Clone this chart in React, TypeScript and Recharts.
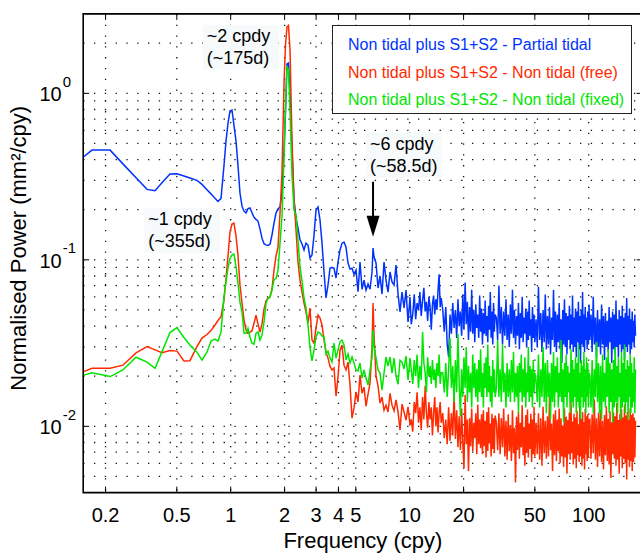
import React from 'react';
import { LineChart, Line, XAxis, YAxis, CartesianGrid, Legend, ReferenceArea, ReferenceDot, Label } from 'recharts';

// frequencies in cycles per year (shared by the three spectra)
const freq = [
  0.151, 0.168, 0.212, 0.25, 0.296, 0.341, 0.378, 0.413, 0.458, 0.501,
  0.548, 0.592, 0.648, 0.691, 0.737, 0.776, 0.817, 0.849, 0.883, 0.918,
  0.941, 0.966, 0.991, 1.017, 1.043, 1.071, 1.098, 1.127, 1.157, 1.187,
  1.218, 1.249, 1.282, 1.315, 1.35, 1.385, 1.421, 1.458, 1.496, 1.535,
  1.575, 1.616, 1.658, 1.701, 1.746, 1.791, 1.838, 1.886, 1.935, 1.986,
  2.024, 2.063, 2.103, 2.145, 2.2, 2.258, 2.317, 2.377, 2.439,
  2.503, 2.568, 2.635, 2.703, 2.774, 2.846, 2.921, 2.997, 3.075, 3.155,
  3.237, 3.322, 3.408, 3.497, 3.588, 3.682, 3.778, 3.876, 3.977, 4.081,
  4.187, 4.296, 4.408, 4.523, 4.641, 4.762, 4.886, 5.014, 5.144, 5.278,
  5.416, 5.557, 5.702, 5.851, 6.003, 6.16, 6.24, 6.32, 6.485, 6.654,
  6.827, 7.005, 7.188, 7.375, 7.567, 7.765, 7.967, 8.175, 8.387, 8.606,
  8.83, 9.061, 9.297, 9.539, 9.788, 10.04,
  10.2, 10.4, 10.6, 10.8, 11, 11.2, 11.4, 11.6, 11.8, 12, 12.2, 12.4, 12.6,
  12.8, 13, 13.2, 13.4, 13.6, 13.8, 14, 14.2, 14.4, 14.6, 14.8, 15,
  15.3, 15.6, 15.9, 16.2, 16.5, 16.8, 17.1, 17.4, 17.7, 18, 18.3, 18.6, 18.9,
  19.2, 19.5, 19.8, 20.1, 20.4, 20.7, 21, 21.3, 21.6, 21.9, 22.2, 22.5, 22.8,
  23.1, 23.4, 23.7, 24, 24.3, 24.6, 24.9, 25.2, 25.5, 25.8, 26.1, 26.4, 26.7,
  27, 27.3, 27.6, 27.9, 28.2, 28.5, 28.8, 29.1, 29.4, 29.7, 30,
  30.5, 31, 31.5, 32, 32.5, 33, 33.5, 34, 34.5, 35, 35.5, 36, 36.5, 37, 37.5,
  38, 38.5, 39, 39.5, 40, 40.5, 41, 41.5, 42, 42.5, 43, 43.5, 44, 44.5, 45,
  45.5, 46, 46.5, 47, 47.5, 48, 48.5, 49, 49.5, 50,
  50.8, 51.6, 52.4, 53.2, 54, 54.8, 55.6, 56.4, 57.2, 58, 58.8, 59.6, 60.4,
  61.2, 62, 62.8, 63.6, 64.4, 65.2, 66, 66.8, 67.6, 68.4, 69.2, 70, 70.8,
  71.6, 72.4, 73.2, 74, 74.8, 75.6, 76.4, 77.2, 78, 78.8, 79.6, 80.4, 81.2,
  82, 82.8, 83.6, 84.4, 85.2, 86, 86.8, 87.6, 88.4, 89.2, 90, 90.8, 91.6,
  92.4, 93.2, 94, 94.8, 95.6, 96.4, 97.2, 98, 98.8, 99.6, 100.4,
  101.5, 103, 104.5, 106, 107.5, 109, 110.5, 112, 113.5, 115, 116.5, 118,
  119.5, 121, 122.5, 124, 125.5, 127, 128.5, 130, 131.5, 133, 134.5, 136,
  137.5, 139, 140.5, 142, 143.5, 145, 146.5, 148, 149.5, 151, 152.5, 154,
  155.5, 157, 158.5, 160, 161.5, 163, 164.5, 166, 167.5, 169, 170.5, 172,
  173.5, 175, 176.5, 178, 179.5, 181, 182.5,
];

// normalised power (mm^2/cpy)
const partialTidal = [
  0.416, 0.456, 0.456, 0.377, 0.311, 0.265, 0.26, 0.29, 0.328, 0.329,
  0.319, 0.31, 0.3, 0.284, 0.264, 0.249, 0.234, 0.224, 0.234, 0.371,
  0.513, 0.663, 0.783, 0.794, 0.645, 0.517, 0.371, 0.252, 0.21, 0.196,
  0.191, 0.203, 0.205, 0.192, 0.18, 0.175, 0.171, 0.153, 0.135, 0.125,
  0.123, 0.122, 0.124, 0.141, 0.166, 0.191, 0.202, 0.208, 0.252, 0.456,
  0.772, 1.5, 1.52, 0.977, 0.456, 0.229, 0.178, 0.155, 0.132,
  0.1245, 0.1146, 0.126, 0.1227, 0.1026, 0.107, 0.141, 0.199, 0.2075, 0.173,
  0.126, 0.0845, 0.059, 0.0706, 0.0893, 0.09, 0.089, 0.0778, 0.097, 0.1146,
  0.126, 0.128, 0.119, 0.0957, 0.088, 0.089, 0.082, 0.0868, 0.0644, 0.097,
  0.0666, 0.0756, 0.0659, 0.0716, 0.0666, 0.0845, 0.1178, 0.104, 0.0957, 0.0677,
  0.08, 0.0623, 0.097, 0.0756, 0.064, 0.0845, 0.0736, 0.0706, 0.0931, 0.0623,
  0.0487, 0.064, 0.0514, 0.0659, 0.0423, 0.0598,
  0.041, 0.047, 0.062, 0.044, 0.055, 0.05, 0.064, 0.046, 0.057, 0.068, 0.049,
  0.056, 0.043, 0.06, 0.052, 0.038, 0.054, 0.061, 0.047, 0.058, 0.05, 0.066,
  0.082, 0.052, 0.059,
  0.05, 0.037, 0.052, 0.031, 0.026, 0.047, 0.036, 0.055, 0.039, 0.05,
  0.034, 0.058, 0.04, 0.049, 0.035, 0.062, 0.038, 0.073, 0.041, 0.056,
  0.033, 0.052, 0.037, 0.066, 0.036, 0.05, 0.032, 0.054, 0.039, 0.047,
  0.034, 0.061, 0.037, 0.051, 0.031, 0.048, 0.036, 0.057, 0.035, 0.046,
  0.032, 0.053, 0.038, 0.064, 0.034, 0.049, 0.031, 0.055, 0.037, 0.047,
  0.045, 0.033, 0.07, 0.036, 0.052, 0.031, 0.049, 0.035, 0.058, 0.033,
  0.047, 0.03, 0.054, 0.036, 0.066, 0.034, 0.05, 0.031, 0.046, 0.035,
  0.055, 0.029, 0.048, 0.034, 0.06, 0.032, 0.045, 0.036, 0.051, 0.03,
  0.049, 0.033, 0.057, 0.035, 0.044, 0.028, 0.052, 0.034, 0.047, 0.032,
  0.044, 0.03, 0.069, 0.033, 0.048, 0.028, 0.05, 0.032, 0.062, 0.029,
  0.046, 0.031, 0.052, 0.027, 0.045, 0.033, 0.066, 0.03, 0.049, 0.028,
  0.047, 0.032, 0.055, 0.029, 0.044, 0.024, 0.05, 0.031, 0.058, 0.03,
  0.048, 0.027, 0.046, 0.033, 0.053, 0.029, 0.047, 0.031, 0.061, 0.028,
  0.045, 0.03, 0.051, 0.026, 0.049, 0.032, 0.056, 0.029, 0.046, 0.024,
  0.05, 0.031, 0.064, 0.03, 0.047, 0.028, 0.052, 0.033, 0.045, 0.029,
  0.049, 0.031, 0.054,
  0.033, 0.047, 0.028, 0.06, 0.031, 0.045, 0.026, 0.05, 0.03, 0.044,
  0.027, 0.054, 0.031, 0.046, 0.025, 0.048, 0.03, 0.043, 0.028, 0.052,
  0.032, 0.045, 0.024, 0.049, 0.029, 0.047, 0.027, 0.057, 0.03, 0.044,
  0.026, 0.05, 0.031, 0.046, 0.028, 0.053, 0.029, 0.045, 0.025, 0.048,
  0.03, 0.059, 0.028, 0.046, 0.031, 0.051, 0.027, 0.044, 0.029, 0.049,
  0.032, 0.043, 0.03, 0.047, 0.035,
];

const nonTidalFree = [
  0.0213, 0.0223, 0.0223, 0.0233, 0.0276, 0.0301, 0.0288, 0.0277, 0.0285, 0.0283,
  0.0247, 0.0248, 0.0301, 0.0339, 0.0356, 0.0376, 0.0406, 0.0432, 0.0455, 0.0574,
  0.0767, 0.1054, 0.1469, 0.164, 0.166, 0.139, 0.107, 0.0706, 0.055, 0.0435,
  0.0379, 0.0361, 0.0368, 0.0374, 0.0416, 0.0466, 0.0412, 0.0368, 0.0412, 0.0506,
  0.0566, 0.059, 0.06, 0.0668, 0.0868, 0.1054, 0.119, 0.191, 0.332, 1.153,
  1.95, 2.5, 2.555, 1.82, 0.524, 0.229, 0.151, 0.097, 0.0756,
  0.064, 0.055, 0.0486, 0.0417, 0.0513, 0.033, 0.0316, 0.039, 0.0466, 0.0447,
  0.0406, 0.033, 0.0279, 0.0257, 0.023, 0.0218, 0.0224, 0.0152, 0.0198, 0.0287,
  0.0308, 0.0233, 0.0218, 0.0243, 0.0177, 0.0112, 0.0129, 0.0161, 0.014, 0.0203,
  0.0158, 0.0172, 0.0132, 0.0156, 0.0182, 0.03, 0.055, 0.0353, 0.02, 0.0175,
  0.0138, 0.015, 0.0125, 0.0134, 0.0122, 0.0158, 0.0134, 0.0124, 0.0144, 0.0122,
  0.0095, 0.0136, 0.0122, 0.0109, 0.0131, 0.0102,
  0.011, 0.0093, 0.014, 0.012, 0.016, 0.0105, 0.013, 0.0095, 0.015, 0.011,
  0.0175, 0.012, 0.0098, 0.014, 0.011, 0.013, 0.0088, 0.012, 0.015, 0.01,
  0.013, 0.0092, 0.012, 0.014, 0.0105,
  0.012, 0.0085, 0.011, 0.0078, 0.013, 0.0082, 0.012, 0.0088, 0.0158, 0.0084,
  0.0125, 0.0075, 0.0115, 0.0072, 0.0128, 0.0079, 0.0056, 0.0155, 0.0078, 0.011,
  0.0054, 0.0112, 0.0076, 0.0128, 0.0071, 0.0105, 0.0085, 0.012, 0.0068, 0.0135,
  0.0078, 0.011, 0.0074, 0.0118, 0.0068, 0.0125, 0.0076, 0.0108, 0.0065, 0.0122,
  0.0071, 0.013, 0.0079, 0.0104, 0.0066, 0.0119, 0.0073, 0.0112, 0.0069, 0.0116,
  0.0105, 0.0072, 0.012, 0.0068, 0.0112, 0.0075, 0.0128, 0.0066, 0.0108, 0.0063,
  0.0118, 0.0071, 0.0102, 0.0062, 0.0125, 0.0069, 0.0098, 0.0046, 0.0114, 0.0072,
  0.0122, 0.0064, 0.0105, 0.0075, 0.0134, 0.0067, 0.0099, 0.0058, 0.0117, 0.007,
  0.0126, 0.0065, 0.0104, 0.0073, 0.0119, 0.0061, 0.011, 0.0068, 0.0131, 0.0066,
  0.0105, 0.0068, 0.012, 0.0063, 0.0112, 0.0058, 0.0131, 0.0069, 0.0108, 0.0064,
  0.0115, 0.0066, 0.0155, 0.0072, 0.0104, 0.0054, 0.0118, 0.0067, 0.0125, 0.0062,
  0.011, 0.0071, 0.0128, 0.006, 0.0112, 0.0066, 0.0101, 0.0057, 0.0128, 0.0065,
  0.0114, 0.0052, 0.0109, 0.0068, 0.0121, 0.0063, 0.0142, 0.0069, 0.0107, 0.0059,
  0.0119, 0.0064, 0.0113, 0.0056, 0.0124, 0.0067, 0.0103, 0.0061, 0.0133, 0.0066,
  0.0111, 0.0058, 0.0122, 0.0064, 0.0106, 0.0055, 0.0127, 0.0068, 0.0115, 0.0062,
  0.0118, 0.0065, 0.0109,
  0.011, 0.0064, 0.0118, 0.0069, 0.0145, 0.0063, 0.0112, 0.0057, 0.0121, 0.0066,
  0.0126, 0.0061, 0.0108, 0.0055, 0.0117, 0.0067, 0.0132, 0.0062, 0.0111, 0.0059,
  0.0123, 0.0049, 0.0106, 0.0068, 0.0121, 0.0064, 0.0115, 0.0058, 0.0138, 0.0063,
  0.0109, 0.0052, 0.0119, 0.0066, 0.0127, 0.0056, 0.0113, 0.0064, 0.0135, 0.006,
  0.0116, 0.0048, 0.0122, 0.0063, 0.011, 0.0057, 0.0128, 0.0062, 0.0117, 0.0054,
  0.012, 0.0061, 0.0113, 0.0065, 0.0108,
];

const nonTidalFixed = [
  0.0203, 0.021, 0.0199, 0.0218, 0.026, 0.0243, 0.0223, 0.028, 0.0366, 0.0392,
  0.0342, 0.0308, 0.0279, 0.025, 0.0279, 0.0325, 0.0334, 0.0325, 0.0368, 0.0606,
  0.0736, 0.0893, 0.102, 0.107, 0.1084, 0.0909, 0.0726, 0.0558, 0.0486, 0.0362,
  0.0362, 0.0388, 0.0344, 0.0316, 0.0312, 0.0362, 0.037, 0.033, 0.0353, 0.0423,
  0.0548, 0.0587, 0.0594, 0.0658, 0.0761, 0.0772, 0.0868, 0.126, 0.1833, 0.416,
  0.851, 1.44, 1.4, 0.794, 0.323, 0.199, 0.186, 0.1315, 0.0909,
  0.075, 0.059, 0.0513, 0.0406, 0.0295, 0.0247, 0.0287, 0.0344, 0.0368, 0.0363,
  0.0349, 0.0344, 0.0272, 0.0283, 0.0257, 0.0243, 0.0316, 0.0257, 0.0287, 0.0322,
  0.033, 0.0308, 0.025, 0.0272, 0.024, 0.0261, 0.024, 0.0218, 0.0215, 0.024,
  0.0195, 0.0218, 0.0195, 0.0177, 0.0218, 0.026, 0.0379, 0.03, 0.0257, 0.0218,
  0.0209, 0.0165, 0.0209, 0.0261, 0.023, 0.0261, 0.0209, 0.0257, 0.02, 0.0179,
  0.025, 0.0243, 0.0221, 0.0264, 0.019, 0.0257,
  0.022, 0.018, 0.025, 0.02, 0.027, 0.017, 0.023, 0.019, 0.037, 0.024, 0.021,
  0.016, 0.026, 0.02, 0.023, 0.018, 0.025, 0.019, 0.022, 0.017, 0.024, 0.02,
  0.027, 0.018, 0.021,
  0.021, 0.016, 0.024, 0.015, 0.022, 0.034, 0.017, 0.023, 0.014, 0.025,
  0.016, 0.036, 0.018, 0.0115, 0.022, 0.015, 0.026, 0.017, 0.03, 0.014,
  0.023, 0.016, 0.021, 0.013, 0.027, 0.017, 0.024, 0.015, 0.022, 0.014,
  0.025, 0.016, 0.029, 0.015, 0.021, 0.013, 0.024, 0.017, 0.026, 0.015,
  0.031, 0.016, 0.023, 0.014, 0.02, 0.013, 0.025, 0.016, 0.022, 0.015,
  0.017, 0.033, 0.015, 0.022, 0.014, 0.031, 0.016, 0.021, 0.013, 0.024,
  0.015, 0.022, 0.014, 0.025, 0.016, 0.028, 0.014, 0.021, 0.015, 0.023,
  0.012, 0.024, 0.016, 0.027, 0.014, 0.022, 0.015, 0.026, 0.013, 0.021,
  0.016, 0.03, 0.014, 0.023, 0.015, 0.022, 0.013, 0.025, 0.016, 0.021,
  0.019, 0.014, 0.027, 0.013, 0.022, 0.015, 0.03, 0.014, 0.024, 0.012,
  0.025, 0.015, 0.021, 0.011, 0.024, 0.014, 0.028, 0.013, 0.023, 0.016,
  0.026, 0.013, 0.021, 0.015, 0.033, 0.014, 0.022, 0.0105, 0.024, 0.015,
  0.027, 0.013, 0.023, 0.016, 0.021, 0.012, 0.029, 0.014, 0.025, 0.013,
  0.022, 0.015, 0.026, 0.012, 0.024, 0.014, 0.031, 0.013, 0.021, 0.011,
  0.025, 0.015, 0.023, 0.013, 0.028, 0.014, 0.022, 0.012, 0.026, 0.015,
  0.024, 0.013, 0.021,
  0.02, 0.013, 0.025, 0.012, 0.022, 0.015, 0.032, 0.014, 0.024, 0.012,
  0.023, 0.011, 0.027, 0.014, 0.021, 0.013, 0.026, 0.015, 0.029, 0.012,
  0.024, 0.014, 0.022, 0.0105, 0.025, 0.013, 0.03, 0.014, 0.023, 0.012,
  0.026, 0.015, 0.021, 0.011, 0.028, 0.013, 0.024, 0.014, 0.031, 0.012,
  0.022, 0.014, 0.025, 0.011, 0.023, 0.015, 0.027, 0.012, 0.024, 0.013,
  0.021, 0.014, 0.026, 0.012, 0.022,
];

const seriesNames = [
  'Non tidal plus S1+S2 - Partial tidal',
  'Non tidal plus S1+S2 - Non tidal (free)',
  'Non tidal plus S1+S2 - Non tidal (fixed)',
];
const seriesColors = ['#0033ff', '#ff2a00', '#00e600'];

const xTicks = [0.2, 0.5, 1, 2, 3, 4, 5, 10, 20, 50, 100];
const yTicks = [0.01, 0.1, 1];
const yGrid = [
  0.005, 0.006, 0.007, 0.008, 0.009, 0.01, 0.02, 0.03, 0.04, 0.05, 0.06, 0.07,
  0.08, 0.09, 0.1, 0.2, 0.3, 0.4, 0.5, 0.6, 0.7, 0.8, 0.9, 1, 2,
];

const notes = [
  { f: 0.734, p: 2.04, lines: ['~2 cpdy', '(~175d)'] },
  { f: 0.3465, p: 0.162, lines: ['~1 cpdy', '(~355d)'] },
  { f: 6.0, p: 0.4565, lines: ['~6 cpdy', '(~58.5d)'] },
];
const arrowAt = { f: 6.24, p: 0.1376 };

const rows = freq.map((f, i) => ({
  f,
  partial: partialTidal[i],
  free: nonTidalFree[i],
  fixed: nonTidalFixed[i],
}));

const FONT = '"Liberation Sans", Arial, Helvetica, sans-serif';
const CHART_W = 660;
const CHART_H = 553;
const MARGIN = { top: 13.9, right: 17.4, bottom: 0.4, left: 23.2 };
const PLOT_W = CHART_W - MARGIN.left - MARGIN.right - 60;
const PLOT_H = CHART_H - MARGIN.top - MARGIN.bottom - 60;

const XTick = (props: any) => {
  const { x, y, payload } = props;
  return (
    <g>
      <line x1={x} x2={x} y1={y} y2={y - 6} stroke="#000" strokeWidth={1} />
      <line x1={x} x2={x} y1={y - PLOT_H} y2={y - PLOT_H + 6} stroke="#000" strokeWidth={1} />
      <text x={x} y={y + 29} textAnchor="middle" fontSize={20} fill="#000" fontFamily={FONT}>
        {payload.value}
      </text>
    </g>
  );
};

const YTick = (props: any) => {
  const { x, y, payload } = props;
  const exp = Math.round(Math.log10(payload.value));
  return (
    <g fontFamily={FONT} fill="#000">
      <line x1={x} x2={x + 6} y1={y} y2={y} stroke="#000" strokeWidth={1} />
      <line x1={x + PLOT_W} x2={x + PLOT_W - 6} y1={y} y2={y} stroke="#000" strokeWidth={1} />
      <text x={x - 21.5} y={y + 8} textAnchor="end" fontSize={20}>10</text>
      <text x={x - 20.5} y={y - 6.5} fontSize={15}>{exp}</text>
    </g>
  );
};

const Note = (props: any) => {
  const { cx, cy, lines } = props;
  return (
    <g fontFamily={FONT} fontSize={18} fill="#000">
      <rect x={cx - 4} y={cy - 17} width={76} height={45} fill="#f7fafb" />
      {lines.map((t: string, i: number) => (
        <text key={i} x={cx} y={cy + i * 22.3}>{t}</text>
      ))}
    </g>
  );
};

const ArrowDown = (props: any) => {
  const { cx, cy } = props;
  return (
    <g>
      <line x1={cx} x2={cx} y1={cy - 55} y2={cy - 18} stroke="#000" strokeWidth={2} />
      <path d={`M${cx - 6.5},${cy - 21} L${cx + 6.5},${cy - 21} L${cx},${cy} Z`} fill="#000" />
    </g>
  );
};

const LegendBox = () => (
  <div
    style={{
      boxSizing: 'border-box',
      width: '100%',
      height: '100%',
      border: '1px solid #222',
      background: '#fff',
      padding: '5px 0 0 15px',
      fontFamily: FONT,
      fontSize: 16,
      lineHeight: '27.5px',
      whiteSpace: 'nowrap',
    }}
  >
    {seriesNames.map((n, i) => (
      <div key={n} style={{ color: seriesColors[i] }}>{n}</div>
    ))}
  </div>
);

export default function App() {
  return (
    <div style={{ position: 'absolute', left: 0, top: 0, width: 640, height: 553, overflow: 'hidden', background: '#fff' }}>
      <LineChart width={CHART_W} height={CHART_H} data={rows} margin={MARGIN}>
        <CartesianGrid
          verticalValues={xTicks}
          horizontalValues={yGrid}
          stroke="#111"
          strokeWidth={1.3}
          strokeDasharray="1.3 9.5"
        />
        <XAxis
          dataKey="f"
          type="number"
          scale="log"
          domain={[0.15, 200]}
          allowDataOverflow
          ticks={xTicks}
          interval={0}
          height={60}
          tickSize={0}
          tickMargin={0}
          axisLine={false}
          tickLine={false}
          tick={<XTick />}
        >
          <Label
            content={(p: any) => {
              const vb = p.viewBox;
              return (
                <text x={vb.x + vb.width / 2} y={vb.y + 55} textAnchor="middle" fontSize={22} fontFamily={FONT} fill="#000">
                  Frequency (cpy)
                </text>
              );
            }}
          />
        </XAxis>
        <YAxis
          type="number"
          scale="log"
          domain={[0.004, 3]}
          allowDataOverflow
          ticks={yTicks}
          interval={0}
          width={60}
          tickSize={0}
          tickMargin={0}
          axisLine={false}
          tickLine={false}
          tick={<YTick />}
        >
          <Label
            content={(p: any) => {
              const vb = p.viewBox;
              const cx = vb.x + 3;
              const cy = vb.y + vb.height / 2 - 5;
              return (
                <text
                  x={cx}
                  y={cy}
                  transform={`rotate(-90 ${cx} ${cy})`}
                  textAnchor="middle"
                  fontSize={22}
                  fontFamily={FONT}
                  fill="#000"
                >
                  Normalised Power (mm²/cpy)
                </text>
              );
            }}
          />
        </YAxis>
        <Line dataKey="partial" name={seriesNames[0]} stroke={seriesColors[0]} strokeWidth={1.5} dot={false} activeDot={false} isAnimationActive={false} />
        <Line dataKey="free" name={seriesNames[1]} stroke={seriesColors[1]} strokeWidth={1.5} dot={false} activeDot={false} isAnimationActive={false} />
        <Line dataKey="fixed" name={seriesNames[2]} stroke={seriesColors[2]} strokeWidth={1.5} dot={false} activeDot={false} isAnimationActive={false} />
        <ReferenceArea x1={0.15} x2={200} y1={0.004} y2={3} fill="none" stroke="#000" strokeWidth={1.6} ifOverflow="visible" />
        {notes.map((n) => (
          <ReferenceDot
            key={n.lines[0]}
            x={n.f}
            y={n.p}
            r={0}
            ifOverflow="visible"
            shape={(p: any) => <Note {...p} lines={n.lines} />}
          />
        ))}
        <ReferenceDot x={arrowAt.f} y={arrowAt.p} r={0} ifOverflow="visible" shape={(p: any) => <ArrowDown {...p} />} />
        <Legend
          layout="vertical"
          verticalAlign="middle"
          align="center"
          wrapperStyle={{ left: 332, top: 25, width: 300, height: 89 }}
          content={() => <LegendBox />}
        />
      </LineChart>
    </div>
  );
}
